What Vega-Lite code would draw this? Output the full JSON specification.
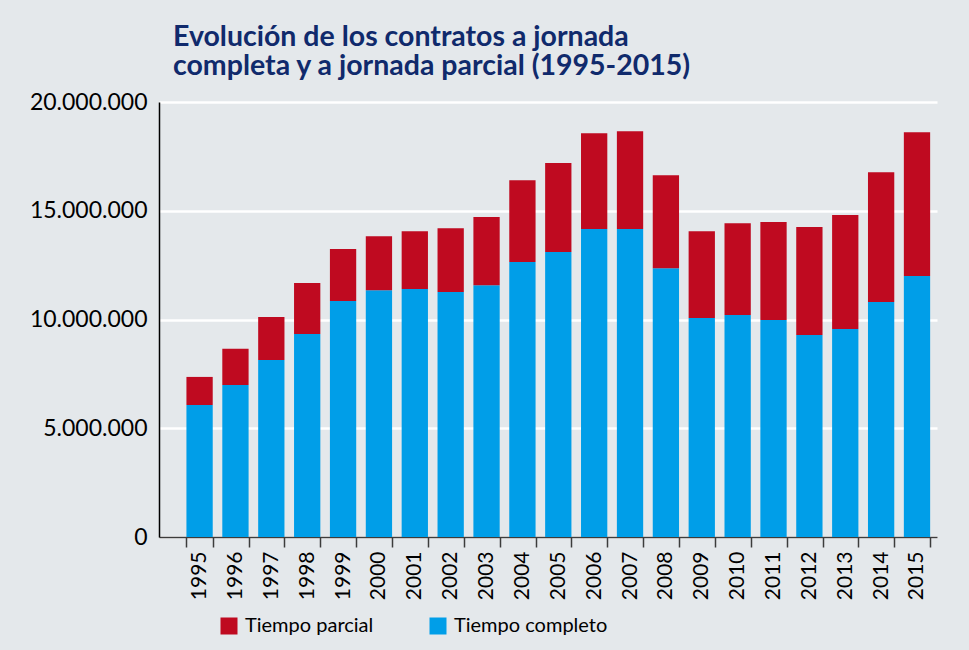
{
  "$schema": "https://vega.github.io/schema/vega-lite/v6.json",
  "width": 778,
  "height": 435,
  "autosize": "none",
  "padding": {"left": 159, "top": 102, "right": 32, "bottom": 113},
  "background": "#e4e8eb",
  "config": {
    "locale": {"number": {"decimal": ",", "thousands": ".", "grouping": [3], "currency": ["", " €"]}},
    "view": {"stroke": null},
    "font": "Lato"
  },
  "title": {
    "text": ["Evolución de los contratos a jornada", "completa y a jornada parcial (1995-2015)"],
    "anchor": "start",
    "frame": "group",
    "dx": 14,
    "font": "Lato",
    "fontSize": 28.5,
    "fontWeight": "bold",
    "color": "#102a6c",
    "lineHeight": 28.5,
    "offset": 11
  },
  "data": {
    "values": [
      {"year": "1995", "tipo": "Tiempo completo", "value": 6070000},
      {"year": "1995", "tipo": "Tiempo parcial", "value": 1290000},
      {"year": "1996", "tipo": "Tiempo completo", "value": 6990000},
      {"year": "1996", "tipo": "Tiempo parcial", "value": 1660000},
      {"year": "1997", "tipo": "Tiempo completo", "value": 8140000},
      {"year": "1997", "tipo": "Tiempo parcial", "value": 1970000},
      {"year": "1998", "tipo": "Tiempo completo", "value": 9330000},
      {"year": "1998", "tipo": "Tiempo parcial", "value": 2350000},
      {"year": "1999", "tipo": "Tiempo completo", "value": 10850000},
      {"year": "1999", "tipo": "Tiempo parcial", "value": 2390000},
      {"year": "2000", "tipo": "Tiempo completo", "value": 11350000},
      {"year": "2000", "tipo": "Tiempo parcial", "value": 2480000},
      {"year": "2001", "tipo": "Tiempo completo", "value": 11400000},
      {"year": "2001", "tipo": "Tiempo parcial", "value": 2660000},
      {"year": "2002", "tipo": "Tiempo completo", "value": 11260000},
      {"year": "2002", "tipo": "Tiempo parcial", "value": 2940000},
      {"year": "2003", "tipo": "Tiempo completo", "value": 11580000},
      {"year": "2003", "tipo": "Tiempo parcial", "value": 3130000},
      {"year": "2004", "tipo": "Tiempo completo", "value": 12640000},
      {"year": "2004", "tipo": "Tiempo parcial", "value": 3760000},
      {"year": "2005", "tipo": "Tiempo completo", "value": 13100000},
      {"year": "2005", "tipo": "Tiempo parcial", "value": 4090000},
      {"year": "2006", "tipo": "Tiempo completo", "value": 14160000},
      {"year": "2006", "tipo": "Tiempo parcial", "value": 4400000},
      {"year": "2007", "tipo": "Tiempo completo", "value": 14160000},
      {"year": "2007", "tipo": "Tiempo parcial", "value": 4490000},
      {"year": "2008", "tipo": "Tiempo completo", "value": 12360000},
      {"year": "2008", "tipo": "Tiempo parcial", "value": 4270000},
      {"year": "2009", "tipo": "Tiempo completo", "value": 10070000},
      {"year": "2009", "tipo": "Tiempo parcial", "value": 3990000},
      {"year": "2010", "tipo": "Tiempo completo", "value": 10210000},
      {"year": "2010", "tipo": "Tiempo parcial", "value": 4220000},
      {"year": "2011", "tipo": "Tiempo completo", "value": 9980000},
      {"year": "2011", "tipo": "Tiempo parcial", "value": 4500000},
      {"year": "2012", "tipo": "Tiempo completo", "value": 9290000},
      {"year": "2012", "tipo": "Tiempo parcial", "value": 4960000},
      {"year": "2013", "tipo": "Tiempo completo", "value": 9560000},
      {"year": "2013", "tipo": "Tiempo parcial", "value": 5240000},
      {"year": "2014", "tipo": "Tiempo completo", "value": 10800000},
      {"year": "2014", "tipo": "Tiempo parcial", "value": 5970000},
      {"year": "2015", "tipo": "Tiempo completo", "value": 12000000},
      {"year": "2015", "tipo": "Tiempo parcial", "value": 6610000}
    ]
  },
  "mark": {"type": "bar"},
  "encoding": {
    "x": {
      "field": "year",
      "type": "ordinal",
      "scale": {"paddingInner": 0.267, "paddingOuter": 0.478, "align": 0.8},
      "axis": {
        "title": null,
        "labelAngle": -90,
        "labelFontSize": 21,
        "labelColor": "#000000",
        "labelPadding": 4,
        "domainColor": "#3c3c3c",
        "domainWidth": 1.5,
        "tickColor": "#3c3c3c",
        "tickWidth": 1.5,
        "tickSize": 10,
        "tickBand": "extent"
      }
    },
    "y": {
      "field": "value",
      "type": "quantitative",
      "stack": "zero",
      "scale": {"domain": [0, 20000000], "nice": false},
      "axis": {
        "title": null,
        "values": [0, 5000000, 10000000, 15000000, 20000000],
        "format": ",d",
        "labelFontSize": 23,
        "labelColor": "#000000",
        "labelPadding": 12,
        "ticks": false,
        "domainColor": "#000000",
        "domainWidth": 1.5,
        "gridColor": "#ffffff",
        "gridWidth": 2.5,
        "gridOpacity": 1
      }
    },
    "order": {"field": "tipo", "type": "nominal", "sort": "ascending"},
    "color": {
      "field": "tipo",
      "type": "nominal",
      "scale": {"domain": ["Tiempo parcial", "Tiempo completo"], "range": ["#bf0a20", "#009ee8"]},
      "legend": {
        "title": null,
        "orient": "none",
        "legendX": 60,
        "legendY": 514,
        "direction": "horizontal",
        "symbolType": "square",
        "symbolSize": 289,
        "symbolStrokeWidth": 0,
        "labelFontSize": 20,
        "labelColor": "#000000",
        "labelOffset": 6,
        "columnPadding": 54
      }
    }
  }
}
